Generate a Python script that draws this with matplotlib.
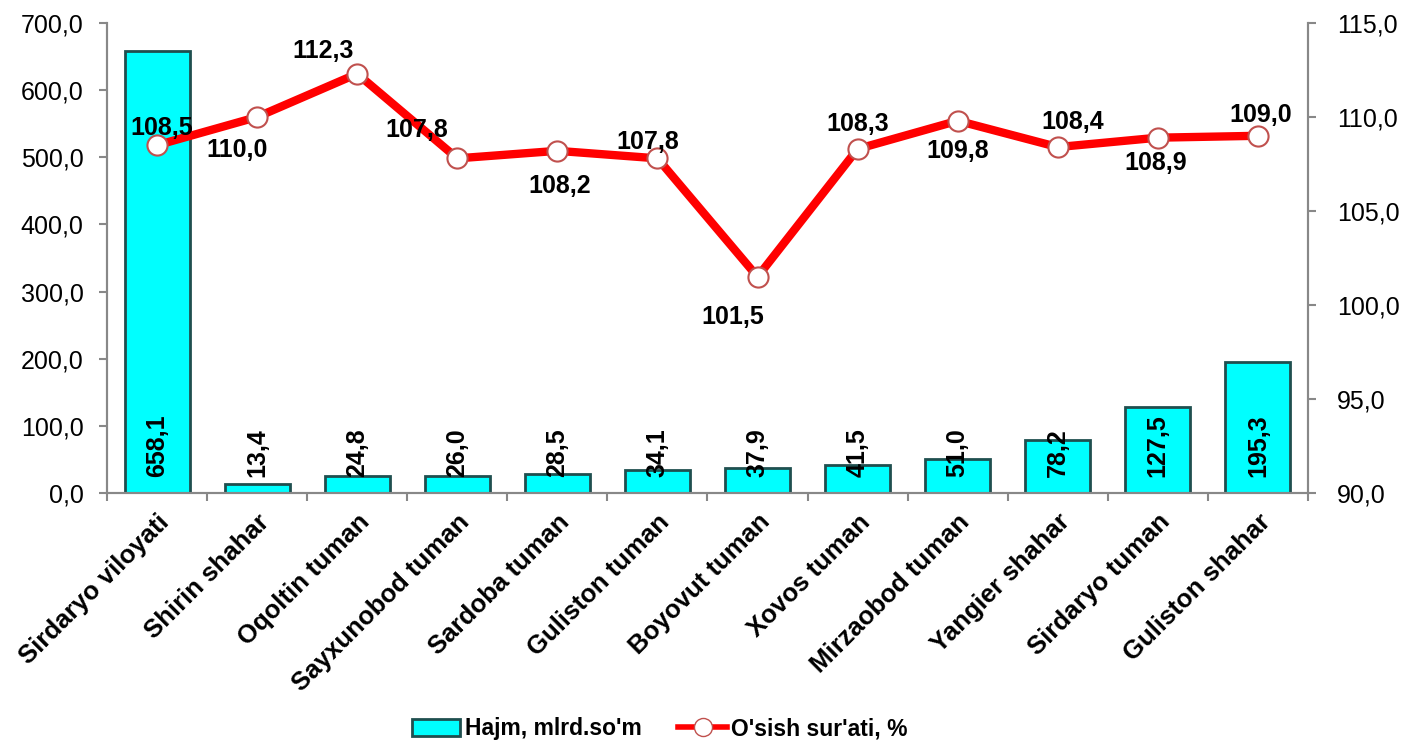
import matplotlib
matplotlib.use("Agg")
import matplotlib.pyplot as plt
from matplotlib.ticker import FuncFormatter, FixedLocator
from matplotlib.lines import Line2D
from matplotlib.patches import Patch

plt.rcParams['font.family'] = ['Liberation Sans', 'DejaVu Sans']

categories = ["Sirdaryo viloyati", "Shirin shahar", "Oqoltin tuman", "Sayxunobod tuman",
              "Sardoba tuman", "Guliston tuman", "Boyovut tuman", "Xovos tuman",
              "Mirzaobod tuman", "Yangier shahar", "Sirdaryo tuman", "Guliston shahar"]
volume = [658.1, 13.4, 24.8, 26.0, 28.5, 34.1, 37.9, 41.5, 51.0, 78.2, 127.5, 195.3]
growth = [108.5, 110.0, 112.3, 107.8, 108.2, 107.8, 101.5, 108.3, 109.8, 108.4, 108.9, 109.0]
label_offsets = [(5, 17), (-20, -33), (-34, 23), (-41, 28), (2, -35), (-10, 16), (-25, -40),
                 (0, 25), (0, -30), (15, 25), (-2, -25), (3, 21)]

def comma(v, pos=None):
    return f"{v:.1f}".replace(".", ",")

fig = plt.figure(figsize=(14.02, 7.45), dpi=100)
ax = fig.add_axes([107/1402, 1-493/745, (1308-107)/1402, (493-23)/745])
ax2 = ax.twinx()

x = list(range(len(categories)))
ax.bar(x, volume, width=0.65, color="#00FFFF", edgecolor="#1F4F4F", linewidth=2, zorder=2)
ax.set_ylim(0, 700)
ax.set_xlim(-0.5, len(categories) - 0.5)
ax.set_yticks([0, 100, 200, 300, 400, 500, 600, 700])
ax.yaxis.set_major_formatter(FuncFormatter(comma))
ax.set_xticks(x)
ax.set_xticklabels(categories, rotation=45, ha='right', rotation_mode='anchor',
                   fontsize=18.5, fontweight='bold')
ax.tick_params(axis='x', length=0, pad=12)
ax.xaxis.set_minor_locator(FixedLocator([i - 0.5 for i in range(len(categories) + 1)]))
ax.tick_params(axis='x', which='minor', length=6, color='#888888', width=1.5)
ax.tick_params(axis='y', labelsize=18, length=6, pad=11, color='#888888', width=1.5)

for i, v in enumerate(volume):
    ax.annotate(comma(v), (i, 0), xytext=(0, 16), textcoords='offset pixels',
                rotation=90, ha='center', va='bottom', fontsize=18, fontweight='bold', zorder=5)

ax2.plot(x, growth, color="#FF0000", linewidth=6, marker='o', markersize=14.5,
         markerfacecolor='white', markeredgecolor='#C0504D', markeredgewidth=1.5, zorder=4)
ax2.set_ylim(90, 115)
ax2.set_yticks([90, 95, 100, 105, 110, 115])
ax2.yaxis.set_major_formatter(FuncFormatter(comma))
ax2.tick_params(axis='y', labelsize=18, length=6, pad=15, color='#888888', width=1.5)

for i, (g, off) in enumerate(zip(growth, label_offsets)):
    ax2.annotate(comma(g), (i, g), xytext=off, textcoords='offset pixels',
                 ha='center', va='center', fontsize=18, fontweight='bold', zorder=6)

for a in (ax, ax2):
    a.spines['top'].set_visible(False)
    for s in ('left', 'right', 'bottom'):
        a.spines[s].set_color('#888888')
        a.spines[s].set_linewidth(1.5)

handles = [Patch(facecolor="#00FFFF", edgecolor="#1F4F4F", linewidth=2),
           Line2D([0], [0], color="#FF0000", linewidth=4, marker='o', markersize=13,
                  markerfacecolor='white', markeredgecolor='#C0504D')]
fig.legend(handles, ["Hajm, mlrd.so'm", "O'sish sur'ati, %"], loc='center',
           bbox_to_anchor=(660/1402, 1 - 729/745), ncol=2, frameon=False,
           prop={'size': 16.5, 'weight': 'bold'}, columnspacing=1.6, handlelength=2.1,
           handletextpad=0.2, borderpad=0.1)

fig.savefig("out.png", dpi=100)
